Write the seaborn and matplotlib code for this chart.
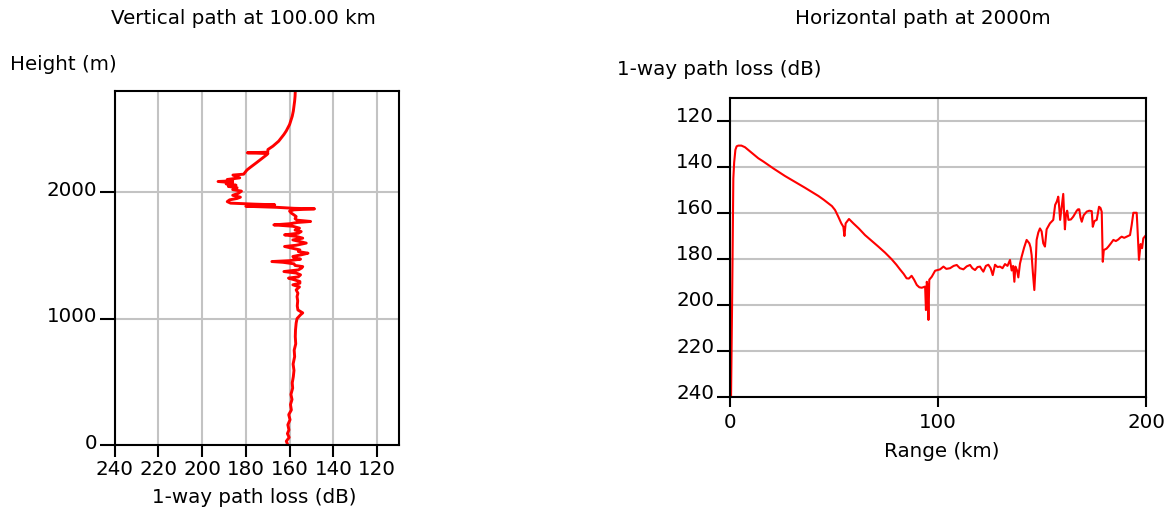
import matplotlib
matplotlib.use("Agg")
import matplotlib.pyplot as plt
import matplotlib.transforms as mtransforms
import pandas as pd
import seaborn as sns

# Vertical profile at 100 km: height (m) and 1-way path loss (dB)
vert_height = [
    0, 30, 60, 90, 119, 160, 200, 240, 277, 320, 360, 400, 450, 491, 540, 590,
    640, 699, 750, 800, 857, 910, 965, 1000, 1030, 1045, 1060, 1068, 1100, 1140,
    1174, 1200, 1227, 1250, 1267, 1280, 1293, 1305, 1320, 1330, 1346, 1360, 1372,
    1385, 1400, 1411, 1420, 1433, 1445, 1451, 1458, 1470, 1480, 1491, 1505, 1517,
    1530, 1543, 1555, 1570, 1580, 1597, 1610, 1622, 1636, 1650, 1662, 1675, 1688,
    1700, 1715, 1730, 1741, 1750, 1760, 1768, 1778, 1790, 1807, 1820, 1834, 1850,
    1860, 1868, 1872, 1880, 1888, 1895, 1900, 1905, 1913, 1925, 1939, 1950, 1960,
    1975, 1990, 2008, 2020, 2035, 2045, 2055, 2065, 2075, 2084, 2090, 2100, 2113,
    2125, 2135, 2142, 2153, 2175, 2193, 2215, 2232, 2255, 2272, 2295, 2305, 2311,
    2316, 2337, 2364, 2403, 2430, 2456, 2485, 2509, 2535, 2562, 2600, 2641, 2680,
    2720, 2760, 2800,
]
vert_loss = [
    160.8, 161.5, 160.2, 161.0, 160.3, 160.8, 159.8, 160.4, 159.2, 159.6, 158.9,
    159.4, 158.6, 158.8, 158.3, 158.0, 158.4, 157.7, 157.9, 157.2, 157.4, 157.3,
    157.0, 156.6, 155.0, 154.0, 155.5, 156.2, 156.5, 156.3, 156.6, 156.2, 157.0,
    155.5, 158.5, 155.3, 155.3, 157.5, 160.5, 156.0, 155.0, 157.0, 162.6, 156.0,
    154.5, 154.0, 157.5, 158.0, 163.0, 168.1, 160.0, 155.0, 158.0, 158.5, 154.5,
    151.6, 156.0, 155.3, 158.5, 162.3, 157.0, 152.4, 155.5, 158.5, 154.0, 157.0,
    162.3, 156.0, 154.7, 157.5, 155.5, 158.5, 167.2, 160.0, 156.5, 150.4, 156.5,
    157.5, 157.0, 158.0, 159.2, 160.0, 158.0, 148.6, 158.0, 166.0, 180.0, 172.0,
    166.8, 176.0, 187.0, 188.5, 187.4, 184.0, 182.5, 186.0, 183.5, 182.0, 186.0,
    184.0, 188.0, 184.5, 189.0, 186.0, 192.7, 186.0, 188.5, 182.8, 184.5, 185.9,
    181.0, 180.5, 179.5, 178.2, 176.5, 175.2, 173.5, 172.2, 170.5, 169.9, 179.3,
    170.0, 169.9, 167.6, 165.0, 163.8, 162.6, 161.5, 160.8, 160.0, 159.5, 158.8,
    158.3, 158.0, 157.7, 157.5, 157.4,
]

# Horizontal profile at 2000 m: range (km) and 1-way path loss (dB)
horiz_range = [
    0.5, 1.0, 1.4, 1.6, 2.0, 2.6, 3.2, 4.0, 5.5, 7.2, 8.8, 10.4, 12.0, 13.6, 16.0,
    18.4, 20.8, 23.2, 26.4, 29.6, 32.8, 36.0, 39.2, 42.5, 45.0, 47.3, 49.0, 50.5,
    52.0, 53.5, 54.5, 55.0, 55.6, 57.2, 59.3, 62.0, 64.9, 68.0, 71.3, 74.5, 77.7,
    80.0, 81.7, 83.5, 84.9, 86.0, 87.3, 88.5, 89.8, 91.0, 92.2, 93.8, 94.2, 94.6,
    95.0, 95.4, 95.8, 97.0, 98.6, 101.0, 102.6, 104.0, 105.8, 107.5, 109.0, 110.5,
    112.2, 113.8, 115.4, 116.5, 117.8, 119.0, 120.2, 121.0, 121.8, 123.0, 124.2,
    125.3, 126.3, 127.4, 128.6, 129.8, 131.0, 132.2, 133.4, 134.6, 135.4, 136.1,
    136.7, 137.2, 138.0, 138.6, 139.4, 140.2, 141.4, 142.6, 143.9, 144.5, 145.0,
    145.6, 146.3, 146.8, 147.4, 148.2, 149.0, 149.8, 150.6, 151.4, 152.2, 153.8,
    155.4, 156.3, 157.1, 157.8, 158.3, 158.7, 159.5, 160.2, 160.6, 161.0, 161.5,
    162.1, 162.7, 163.9, 165.0, 166.7, 167.3, 167.9, 168.5, 169.1, 170.0, 171.5,
    172.7, 173.9, 174.4, 175.2, 176.3, 177.4, 178.1, 178.7, 179.2, 179.7, 181.0,
    181.9, 183.1, 184.3, 185.5, 186.7, 187.5, 188.3, 189.5, 190.7, 191.5, 192.3,
    193.1, 193.9, 195.5, 195.8, 196.6, 197.4, 198.1, 198.7, 200.0,
]
horiz_loss = [
    240.0, 200.0, 160.0, 145.0, 138.0, 132.5, 131.0, 130.7, 130.7, 131.4, 132.6,
    133.8, 135.0, 136.2, 137.6, 139.1, 140.6, 142.0, 143.9, 145.6, 147.3, 149.0,
    150.8, 152.6, 154.2, 155.8, 157.0, 158.7, 161.5, 164.5, 166.0, 170.0, 164.5,
    162.6, 164.5, 166.8, 169.6, 172.0, 174.6, 177.2, 180.1, 182.5, 184.5, 186.5,
    188.4, 188.5, 187.3, 189.0, 191.3, 192.3, 192.5, 192.0, 202.2, 189.9, 192.0,
    206.5, 189.0, 187.7, 185.1, 184.5, 183.3, 184.3, 184.0, 183.0, 182.6, 184.0,
    184.5, 183.2, 182.6, 184.0, 184.8, 183.5, 183.3, 184.5, 185.5, 183.0, 182.5,
    184.0, 187.0, 182.5, 183.5, 183.3, 184.0, 182.2, 183.0, 180.4, 185.0, 183.0,
    189.9, 183.3, 185.0, 188.0, 182.0, 179.0, 175.0, 171.7, 173.2, 175.0, 178.3,
    186.0, 193.5, 185.0, 171.7, 168.5, 166.7, 168.0, 173.2, 174.6, 167.1, 164.5,
    163.0, 156.5, 155.0, 152.9, 158.0, 163.0, 157.0, 151.7, 160.0, 167.1, 160.5,
    159.0, 163.0, 162.8, 161.6, 159.0, 158.4, 158.4, 162.0, 163.8, 161.0, 159.4,
    159.0, 159.2, 166.0, 163.5, 163.0, 157.3, 157.8, 159.5, 181.2, 176.1, 175.5,
    174.6, 173.2, 171.7, 172.2, 171.5, 170.8, 170.3, 170.8, 170.3, 170.0, 169.6,
    165.2, 159.9, 159.9, 165.0, 180.4, 173.5, 175.3, 171.0, 169.6,
]

loss_ticks = [240, 220, 200, 180, 160, 140, 120]
height_ticks = [0, 1000, 2000]
range_ticks = [0, 100, 200]

vert_df = pd.DataFrame({"loss": vert_loss, "height": vert_height})
horiz_df = pd.DataFrame({"range": horiz_range, "loss": horiz_loss})

sns.set_theme(style="white")
plt.rcParams["font.family"] = ["DejaVu Sans"]
plt.rcParams["text.color"] = "black"
plt.rcParams["axes.labelcolor"] = "black"
plt.rcParams["xtick.color"] = "black"
plt.rcParams["ytick.color"] = "black"
plt.rcParams["xtick.labelcolor"] = "black"
plt.rcParams["ytick.labelcolor"] = "black"
FS = 14.3
GRID = "#c3c3c3"
RED = "#ff0000"

fig = plt.figure(figsize=(11.68, 5.08), dpi=100)
ax_v = fig.add_axes([0.0981, 0.1240, 0.2435, 0.6969])
ax_h = fig.add_axes([0.6250, 0.2185, 0.3562, 0.5886])

# --- vertical profile ---
sns.lineplot(data=vert_df, x="loss", y="height", sort=False, estimator=None,
             color=RED, linewidth=2.1, ax=ax_v)
ax_v.set_xlim(240, 110)
ax_v.set_ylim(0, 2800)
ax_v.set_xticks(loss_ticks)
ax_v.set_yticks(height_ticks)
ax_v.set_xlabel("")
ax_v.set_ylabel("")
ax_v.tick_params(axis="x", direction="out", length=8.6, width=1.5, pad=2,
                 labelsize=FS, colors="black", bottom=True)
ax_v.tick_params(axis="y", direction="out", length=10.8, width=1.5, pad=1.5,
                 labelsize=FS, colors="black", left=True)

# --- horizontal profile ---
sns.lineplot(data=horiz_df, x="range", y="loss", sort=False, estimator=None,
             color=RED, linewidth=1.5, ax=ax_h)
ax_h.set_xlim(0, 200)
ax_h.set_ylim(240, 110)
ax_h.set_xticks(range_ticks)
ax_h.set_yticks(loss_ticks[::-1])
ax_h.set_xlabel("")
ax_h.set_ylabel("")
ax_h.tick_params(axis="x", direction="out", length=7.2, width=1.5, pad=4,
                 labelsize=FS, colors="black", bottom=True)
ax_h.tick_params(axis="y", direction="out", length=9.4, width=1.5, pad=2,
                 labelsize=FS, colors="black", left=True)

for ax in (ax_v, ax_h):
    ax.grid(True, color=GRID, linewidth=1.5)
    ax.set_axisbelow(True)
    for sp in ax.spines.values():
        sp.set_visible(True)
        sp.set_color("black")
        sp.set_linewidth(1.5)
    ax.set_facecolor("white")

# y tick labels sit a little above their ticks
def raise_labels(ax, dy_px):
    shift = mtransforms.ScaledTranslation(0, dy_px / 100.0, fig.dpi_scale_trans)
    for tick in ax.yaxis.get_major_ticks():
        tick.label1.set_transform(tick.label1.get_transform() + shift)

raise_labels(ax_v, 4)
raise_labels(ax_h, 6)

# titles and axis captions
fig.text(0.208, 0.9522, "Vertical path at 100.00 km", ha="center", va="baseline", fontsize=FS, color="black")
fig.text(0.7903, 0.9522, "Horizontal path at 2000m", ha="center", va="baseline", fontsize=FS, color="black")
fig.text(0.0086, 0.8622, "Height (m)", ha="left", va="baseline", fontsize=FS, color="black")
fig.text(0.5283, 0.8524, "1-way path loss (dB)", ha="left", va="baseline", fontsize=FS, color="black")
fig.text(0.2175, 0.0098, "1-way path loss (dB)", ha="center", va="baseline", fontsize=FS, color="black")
fig.text(0.8065, 0.1004, "Range (km)", ha="center", va="baseline", fontsize=FS, color="black")

fig.savefig("out.png", dpi=100, facecolor="white")
